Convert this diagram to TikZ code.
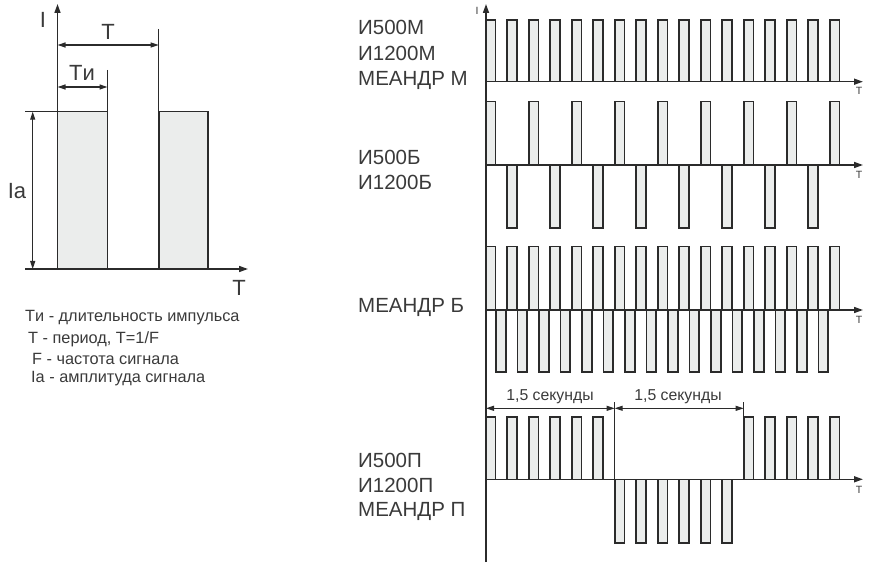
\documentclass[tikz,border=0pt]{standalone}
\usepackage{fontspec}
\setmainfont{Liberation Sans}
\usetikzlibrary{arrows.meta}
\definecolor{pulsefill}{HTML}{EBEDEC}
\definecolor{ink}{HTML}{2B2B2B}
\definecolor{txt}{HTML}{3A3A3A}
\tikzset{
  pulse/.style={draw=ink, fill=pulsefill, line width=1.6pt},
  axis/.style={draw=ink, line width=1.6pt, -{Triangle[length=9pt,width=6pt]}},
  dimline/.style={draw=ink, line width=1.2pt, {Triangle[length=8pt,width=5pt]}-{Triangle[length=8pt,width=5pt]}},
  extline/.style={draw=ink, line width=1.4pt},
  biglbl/.style={inner sep=0, font=\fontsize{22}{22}\selectfont, text=txt},
  rowlbl/.style={inner sep=0, anchor=west, font=\fontsize{20.5}{20.5}\selectfont, text=txt},
  legend/.style={inner sep=0, anchor=west, font=\fontsize{16.3}{16.3}\selectfont, text=txt},
  small/.style={inner sep=0, font=\fontsize{10.5}{10.5}\selectfont, text=txt},
  seclbl/.style={inner sep=0, font=\fontsize{15.8}{15.8}\selectfont, text=txt}
}
\begin{document}
\begin{tikzpicture}[x=1pt,y=-1pt]
\useasboundingbox (0,0) rectangle (873,564);

% ---------- left diagram ----------
\coordinate (o) at (57.5,269);
\coordinate (xend) at (248,269);
\coordinate (yend) at (57.5,4);
\draw[pulse] (57.5,269) rectangle (107.5,111.7);
\draw[pulse] (158.7,269) rectangle (208,111.7);
\draw[extline] (25,111.7) -- (57.5,111.7);
\draw[axis] (25,269) -- (xend);
\draw[axis] (o) -- (yend);
\draw[extline] (107.5,70) -- (107.5,111.7);
\draw[extline] (158.7,29) -- (158.7,111.7);
\draw[dimline] (57.5,45) -- (158.7,45);
\draw[dimline] (57.5,87) -- (107.5,87);
\draw[dimline] (32.7,111.7) -- (32.7,269);
\node[biglbl] (lI) at (43,20) {I};
\node[biglbl] (lT) at (108,32) {T};
\node[biglbl] (lTi) at (82,73) {Tи};
\node[biglbl] (lIa) at (17,191) {Ia};
\node[biglbl] (lTx) at (239,288) {T};

\node[legend] (g1) at (25,318) {Tи - длительность импульса};
\node[legend] (g2) at (28,339) {T - период, T=1/F};
\node[legend] (g3) at (32,359) {F - частота сигнала};
\node[legend] (g4) at (31,379) {Ia - амплитуда сигнала};

% ---------- right diagram ----------
% row 1
\foreach \i in {0,...,16} {
  \draw[pulse] ({485.7+21.5*\i},81.7) rectangle ({495.4+21.5*\i},20);
}
% row 2
\foreach \i in {0,2,...,16} {
  \draw[pulse] ({485.7+21.5*\i},165) rectangle ({495.4+21.5*\i},101.7);
}
\foreach \i in {1,3,...,15} {
  \draw[pulse] ({485.7+21.5*\i},165) rectangle ({495.4+21.5*\i},228);
}
% row 3
\foreach \i in {0,...,16} {
  \draw[pulse] ({485.7+21.5*\i},310) rectangle ({495.4+21.5*\i},246.7);
}
\foreach \i in {0,...,15} {
  \draw[pulse] ({496+21.5*\i},310) rectangle ({505.7+21.5*\i},371.7);
}
% row 4
\foreach \i in {0,...,5,12,13,14,15,16} {
  \draw[pulse] ({485.7+21.5*\i},479.3) rectangle ({495.4+21.5*\i},416.7);
}
\foreach \i in {6,...,11} {
  \draw[pulse] ({485.7+21.5*\i},479.3) rectangle ({495.4+21.5*\i},542.7);
}

% axes
\coordinate (r0) at (486,562);
\coordinate (rtop) at (486,4);
\draw[axis] (r0) -- (rtop);
\coordinate (b1) at (486,81.7);  \coordinate (e1) at (863,81.7);
\coordinate (b2) at (486,165);   \coordinate (e2) at (863,165);
\coordinate (b3) at (486,310);   \coordinate (e3) at (863,310);
\coordinate (b4) at (486,479.3); \coordinate (e4) at (863,479.3);
\draw[axis] (b1) -- (e1);
\draw[axis] (b2) -- (e2);
\draw[axis] (b3) -- (e3);
\draw[axis] (b4) -- (e4);
\node[small] (rI) at (477,11) {I};
\node[small] (t1) at (859,91) {T};
\node[small] (t2) at (859,175) {T};
\node[small] (t3) at (859,320) {T};
\node[small] (t4) at (859,490) {T};

% 1.5 s dimensions
\coordinate (d0) at (486,408.3);
\coordinate (d1) at (614.7,408.3);
\coordinate (d2) at (743.7,408.3);
\draw[extline, line width=1.1pt] (614.7,402) -- (614.7,479.3);
\draw[extline, line width=1.1pt] (743.7,402) -- (743.7,416.7);
\draw[dimline, line width=1pt] (d0) -- (d1);
\draw[dimline, line width=1pt] (d1) -- (d2);
\node[seclbl] (s1) at (550,397) {1,5 секунды};
\node[seclbl] (s2) at (678,397) {1,5 секунды};

% row labels
\node[rowlbl] (a1) at (358,27) {И500М};
\node[rowlbl] (a2) at (358,53) {И1200М};
\node[rowlbl] (a3) at (358,80) {МЕАНДР М};
\node[rowlbl] (b1l) at (358,157) {И500Б};
\node[rowlbl] (b2l) at (358,182) {И1200Б};
\node[rowlbl] (c1) at (358,307) {МЕАНДР Б};
\node[rowlbl] (d1l) at (358,460) {И500П};
\node[rowlbl] (d2l) at (358,485) {И1200П};
\node[rowlbl] (d3l) at (358,511) {МЕАНДР П};
\end{tikzpicture}
\end{document}
